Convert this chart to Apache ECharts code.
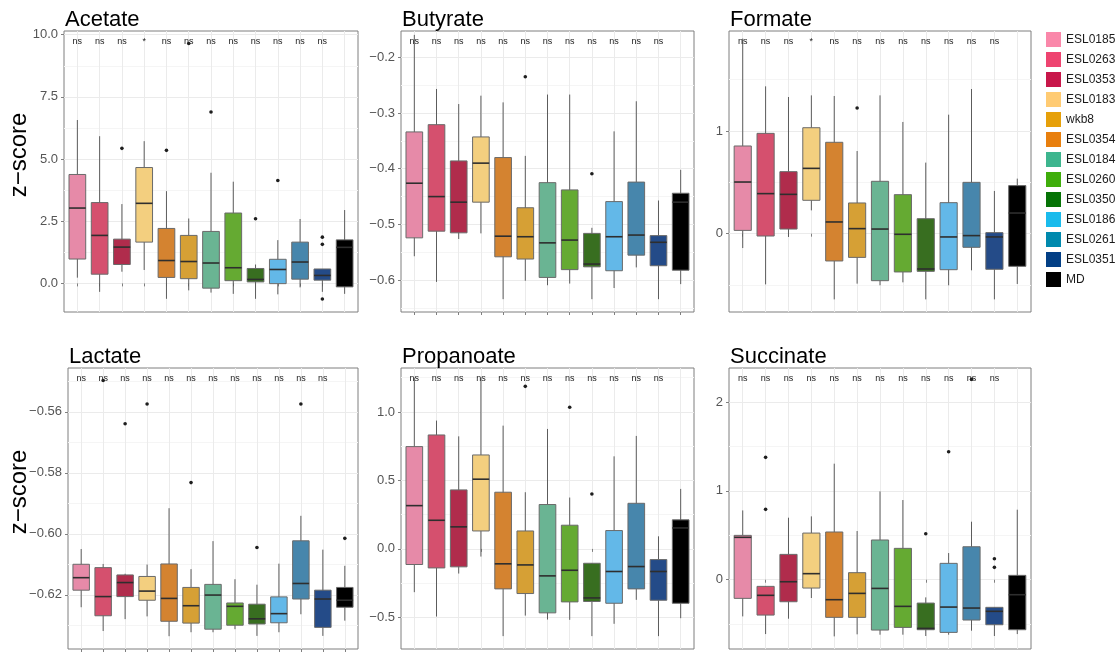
<!DOCTYPE html>
<html>
<head>
<meta charset="utf-8">
<script src="https://cdn.jsdelivr.net/npm/echarts@6/dist/echarts.min.js"></script>
<style>
  html, body { margin: 0; padding: 0; background: #ffffff; }
  #chart { width: 1120px; height: 653px; }
</style>
</head>
<body>
<div id="chart"></div>
<script>
// Strains in legend order and their key colours
const strains = ['ESL0185', 'ESL0263', 'ESL0353', 'ESL0183', 'wkb8', 'ESL0354',
  'ESL0184', 'ESL0260', 'ESL0350', 'ESL0186', 'ESL0261', 'ESL0351', 'MD'];
const legendColors = ['#FA88AA', '#EE4470', '#C8174A', '#FFCB73', '#E6A00A', '#E87F0E',
  '#3DB58E', '#3FAD0B', '#067306', '#1ABBEC', '#0089AD', '#033F85', '#000000'];

// Order of the boxes along x (positions 1..13) and their fills
const boxOrder = ['ESL0185', 'ESL0263', 'ESL0353', 'ESL0183', 'ESL0354', 'wkb8',
  'ESL0184', 'ESL0260', 'ESL0350', 'ESL0186', 'ESL0261', 'ESL0351', 'MD'];
const boxFills = ['#E68AA8', '#D5506E', '#B02C4C', '#F3CF7F', '#D48330', '#D6A035',
  '#6AB493', '#65AA32', '#386E20', '#63B8E8', '#4786AC', '#244B88', '#000000'];

const metabolites = ['Acetate', 'Butyrate', 'Formate', 'Lactate', 'Propanoate', 'Succinate'];

// Box statistics per position: [lower whisker, Q1, median, Q3, upper whisker]
const acetateBoxes = [
  [0.23, 0.98, 3.03, 4.38, 6.57], [-0.34, 0.37, 1.93, 3.25, 5.92], [0.47, 0.76, 1.46, 1.78, 3.19],
  [0.54, 1.66, 3.22, 4.66, 5.72], [-0.62, 0.24, 0.92, 2.21, 3.71], [-0.28, 0.19, 0.88, 1.93, 2.61],
  [-0.37, -0.19, 0.82, 2.09, 4.45], [-0.42, 0.11, 0.63, 2.83, 4.09], [-0.62, 0.06, 0.16, 0.60, 0.76],
  [-0.44, -0.01, 0.56, 0.97, 1.74], [-0.16, 0.17, 0.86, 1.66, 2.59], [-0.34, 0.13, 0.32, 0.58, 0.58],
  [-0.42, -0.14, 1.45, 1.75, 2.95]
];
const butyrateBoxes = [
  [-0.557, -0.524, -0.426, -0.334, -0.160], [-0.603, -0.512, -0.450, -0.321, -0.257],
  [-0.526, -0.515, -0.460, -0.386, -0.284], [-0.516, -0.460, -0.390, -0.343, -0.269],
  [-0.634, -0.558, -0.521, -0.380, -0.281], [-0.601, -0.562, -0.522, -0.470, -0.377],
  [-0.609, -0.595, -0.533, -0.425, -0.267], [-0.606, -0.581, -0.528, -0.438, -0.267],
  [-0.634, -0.576, -0.571, -0.516, -0.506], [-0.614, -0.583, -0.522, -0.459, -0.333],
  [-0.577, -0.555, -0.519, -0.424, -0.279], [-0.634, -0.574, -0.532, -0.520, -0.457],
  [-0.607, -0.582, -0.460, -0.444, -0.402]
];
const formateBoxes = [
  [-0.140, 0.032, 0.503, 0.854, 1.900], [-0.494, -0.023, 0.390, 0.977, 1.435],
  [-0.032, 0.045, 0.383, 0.604, 1.331], [0.227, 0.325, 0.636, 1.032, 1.347],
  [-0.640, -0.266, 0.114, 0.890, 1.341], [-0.487, -0.231, 0.049, 0.299, 0.805],
  [-0.503, -0.458, 0.045, 0.510, 1.347], [-0.474, -0.373, -0.006, 0.380, 1.088],
  [-0.640, -0.367, -0.344, 0.146, 0.692], [-0.503, -0.351, -0.032, 0.302, 1.159],
  [-0.357, -0.133, -0.019, 0.500, 1.409], [-0.640, -0.347, -0.032, 0.010, 0.416],
  [-0.490, -0.318, 0.201, 0.468, 0.536]
];
const lactateBoxes = [
  [-0.6241, -0.6185, -0.6144, -0.6100, -0.6050], [-0.6319, -0.6269, -0.6206, -0.6111, -0.6099],
  [-0.6280, -0.6206, -0.6160, -0.6135, -0.6131], [-0.6271, -0.6218, -0.6188, -0.6140, -0.6101],
  [-0.6336, -0.6287, -0.6212, -0.6099, -0.5916], [-0.6323, -0.6293, -0.6236, -0.6176, -0.6116],
  [-0.6323, -0.6313, -0.6201, -0.6166, -0.6024], [-0.6313, -0.6300, -0.6238, -0.6227, -0.6149],
  [-0.6335, -0.6296, -0.6279, -0.6231, -0.6167], [-0.6323, -0.6292, -0.6262, -0.6207, -0.6098],
  [-0.6264, -0.6214, -0.6163, -0.6023, -0.5941], [-0.6335, -0.6307, -0.6214, -0.6185, -0.6052],
  [-0.6285, -0.6241, -0.6218, -0.6176, -0.6105]
];
const propanoateBoxes = [
  [-0.316, -0.114, 0.316, 0.747, 1.250], [-0.494, -0.139, 0.209, 0.832, 0.937],
  [-0.180, -0.131, 0.161, 0.431, 0.822], [-0.056, 0.131, 0.509, 0.686, 1.250],
  [-0.637, -0.292, -0.109, 0.414, 0.900], [-0.487, -0.326, -0.117, 0.131, 0.414],
  [-0.516, -0.467, -0.197, 0.324, 0.876], [-0.518, -0.387, -0.156, 0.173, 0.375],
  [-0.637, -0.384, -0.358, -0.105, -0.105], [-0.547, -0.397, -0.165, 0.134, 0.676],
  [-0.372, -0.292, -0.129, 0.333, 0.825], [-0.637, -0.375, -0.165, -0.078, 0.092],
  [-0.506, -0.397, 0.153, 0.212, 0.438]
];
const succinateBoxes = [
  [-0.413, -0.210, 0.477, 0.499, 0.780], [-0.612, -0.398, -0.176, -0.075, -0.075],
  [-0.439, -0.248, -0.023, 0.285, 0.698], [-0.206, -0.094, 0.068, 0.525, 0.713],
  [-0.638, -0.424, -0.225, 0.537, 1.306], [-0.615, -0.424, -0.154, 0.079, 0.548],
  [-0.619, -0.567, -0.098, 0.447, 0.994], [-0.619, -0.537, -0.300, 0.353, 0.897],
  [-0.634, -0.563, -0.548, -0.263, -0.199], [-0.619, -0.593, -0.308, 0.184, 0.300],
  [-0.574, -0.454, -0.319, 0.371, 0.653], [-0.634, -0.507, -0.356, -0.311, -0.311],
  [-0.612, -0.563, -0.169, 0.049, 0.788]
];

// Outlying points: [position, value]
const acetateOutliers = [[3, 5.43], [5, 5.35], [6, 9.65], [7, 6.89], [9, 2.60], [10, 4.14],
  [12, 1.86], [12, 1.57], [12, -0.63]];
const butyrateOutliers = [[6, -0.235], [9, -0.409]];
const formateOutliers = [[6, 1.224]];
const lactateOutliers = [[2, -0.5497], [3, -0.5639], [4, -0.5574], [6, -0.5832], [9, -0.6045],
  [11, -0.5574], [13, -0.6015]];
const propanoateOutliers = [[6, 1.187], [8, 1.034], [9, 0.401]];
const succinateOutliers = [[2, 1.377], [2, 0.792], [9, 0.518], [10, 1.441], [11, 2.255],
  [12, 0.236], [12, 0.139]];

// Significance of each strain against MD (positions 1..12)
const acetateSig = ['ns', 'ns', 'ns', '*', 'ns', 'ns', 'ns', 'ns', 'ns', 'ns', 'ns', 'ns'];
const butyrateSig = ['ns', 'ns', 'ns', 'ns', 'ns', 'ns', 'ns', 'ns', 'ns', 'ns', 'ns', 'ns'];
const formateSig = ['ns', 'ns', 'ns', '*', 'ns', 'ns', 'ns', 'ns', 'ns', 'ns', 'ns', 'ns'];
const lactateSig = ['ns', 'ns', 'ns', 'ns', 'ns', 'ns', 'ns', 'ns', 'ns', 'ns', 'ns', 'ns'];
const propanoateSig = ['ns', 'ns', 'ns', 'ns', 'ns', 'ns', 'ns', 'ns', 'ns', 'ns', 'ns', 'ns'];
const succinateSig = ['ns', 'ns', 'ns', 'ns', 'ns', 'ns', 'ns', 'ns', 'ns', 'ns', 'ns', 'ns'];

// Height (data units) of the significance labels in each panel
const sigLabelY = [9.73, -0.1725, 1.870, -0.549, 1.243, 2.263];

// y ranges, major and minor tick values, and label decimals
const yRanges = [[-1.15, 10.15], [-0.657, -0.153], [-0.763, 1.974],
  [-0.6378, -0.5456], [-0.731, 1.321], [-0.780, 2.383]];
const yMajorTicks = [[0, 2.5, 5, 7.5, 10], [-0.6, -0.5, -0.4, -0.3, -0.2], [0, 1],
  [-0.62, -0.60, -0.58, -0.56], [-0.5, 0, 0.5, 1.0], [0, 1, 2]];
const yMinorTicks = [[1.25, 3.75, 6.25, 8.75], [-0.65, -0.55, -0.45, -0.35, -0.25], [-0.5, 0.5, 1.5],
  [-0.63, -0.61, -0.59, -0.57, -0.55], [-0.25, 0.25, 0.75, 1.25], [-0.5, 0.5, 1.5]];
const yDecimals = [1, 1, 0, 2, 1, 0];

const xPositions = [1, 2, 3, 4, 5, 6, 7, 8, 9, 10, 11, 12, 13];

const allBoxes = [acetateBoxes, butyrateBoxes, formateBoxes, lactateBoxes, propanoateBoxes, succinateBoxes];
const allOutliers = [acetateOutliers, butyrateOutliers, formateOutliers, lactateOutliers, propanoateOutliers, succinateOutliers];
const allSig = [acetateSig, butyrateSig, formateSig, lactateSig, propanoateSig, succinateSig];

// Panel rectangles in pixels
const panelRects = [
  { left: 64, top: 31, width: 294, height: 281 },
  { left: 401, top: 31, width: 293, height: 281 },
  { left: 729, top: 31, width: 302, height: 281 },
  { left: 68, top: 368, width: 290, height: 281 },
  { left: 401, top: 368, width: 293, height: 281 },
  { left: 729, top: 368, width: 302, height: 281 }
];

const FONT = '"Liberation Sans", Arial, Helvetica, sans-serif';
const AXIS_GREY = '#7F7F7F';

// One box: whisker line, IQR rectangle, median bar
function renderBox(params, api) {
  const x = api.value(0);
  const lo = api.coord([x, api.value(1)]);
  const q1 = api.coord([x, api.value(2)]);
  const md = api.coord([x, api.value(3)]);
  const q3 = api.coord([x, api.value(4)]);
  const hi = api.coord([x, api.value(5)]);
  const w = api.size([0.75, 0])[0];
  const fill = boxFills[x - 1];
  return {
    type: 'group',
    children: [
      { type: 'line', shape: { x1: lo[0], y1: lo[1], x2: hi[0], y2: hi[1] },
        style: { stroke: '#5C5C5C', lineWidth: 1 } },
      { type: 'rect', shape: { x: q3[0] - w / 2, y: q3[1], width: w, height: q1[1] - q3[1] },
        style: { fill: fill, stroke: '#6A6A6A', lineWidth: 1 } },
      { type: 'line', shape: { x1: md[0] - w / 2, y1: md[1], x2: md[0] + w / 2, y2: md[1] },
        style: { stroke: '#2E2E2E', lineWidth: 1.6 } }
    ]
  };
}

const grid = [], xAxis = [], yAxis = [], series = [], title = [];

panelRects.forEach((r, i) => {
  grid.push(Object.assign({}, r, { show: true, borderColor: AXIS_GREY, borderWidth: 1,
    backgroundColor: 'transparent', containLabel: false }));

  xAxis.push({
    type: 'value', gridIndex: i, min: 0.4, max: 13.6,
    axisLine: { show: false },
    axisLabel: { show: false },
    axisTick: { show: true, length: 3, lineStyle: { color: AXIS_GREY }, customValues: xPositions },
    splitLine: { show: true, lineStyle: { color: '#EBEBEB', width: 1 } }
  });

  const dec = yDecimals[i];
  // major axis with labels
  yAxis.push({
    type: 'value', gridIndex: i, min: yRanges[i][0], max: yRanges[i][1],
    axisLine: { show: false },
    axisTick: { show: true, length: 3, lineStyle: { color: AXIS_GREY }, customValues: yMajorTicks[i] },
    axisLabel: {
      show: true, margin: 6, fontSize: 13, color: '#555555', fontFamily: FONT,
      customValues: yMajorTicks[i],
      formatter: v => Number(v).toFixed(dec).replace('-', '\u2212')
    },
    splitLine: { show: true, lineStyle: { color: '#EBEBEB', width: 1 } }
  });
  // minor grid lines
  yAxis.push({
    type: 'value', gridIndex: i, min: yRanges[i][0], max: yRanges[i][1], position: 'left',
    axisLine: { show: false },
    axisTick: { show: false, customValues: yMinorTicks[i] },
    axisLabel: { show: false },
    splitLine: { show: true, lineStyle: { color: '#F5F5F5', width: 1 } }
  });

  title.push({
    text: metabolites[i], left: r.left + 1, top: r.top - 22, padding: 0,
    textStyle: { fontSize: 22, fontWeight: 'normal', color: '#000', fontFamily: FONT }
  });

  const boxData = allBoxes[i].map((b, k) => [xPositions[k]].concat(b));
  series.push({
    type: 'custom', name: metabolites[i] + ' boxes', xAxisIndex: i, yAxisIndex: 2 * i,
    renderItem: renderBox, data: boxData, silent: true, z: 2,
    encode: { x: 0, y: [1, 2, 3, 4, 5] }
  });

  series.push({
    type: 'scatter', name: metabolites[i] + ' outliers', xAxisIndex: i, yAxisIndex: 2 * i,
    data: allOutliers[i], symbolSize: 3.6, silent: true, z: 3,
    itemStyle: { color: '#1E1E1E', opacity: 1 }
  });

  const sigTexts = allSig[i];
  const sigData = sigTexts.map((s, k) => [xPositions[k], sigLabelY[i]]);
  series.push({
    type: 'custom', name: metabolites[i] + ' significance', xAxisIndex: i, yAxisIndex: 2 * i,
    data: sigData, silent: true, z: 4,
    renderItem: (params, api) => {
      const p = api.coord([api.value(0), api.value(1)]);
      return {
        type: 'text', x: p[0], y: p[1],
        style: { text: sigTexts[params.dataIndex], fill: '#222', fontSize: 9,
          fontFamily: FONT, align: 'center', verticalAlign: 'middle' }
      };
    }
  });
});

// Empty named series so the legend lists every strain with its colour
strains.forEach((s, k) => {
  series.push({
    type: 'custom', name: s, xAxisIndex: 0, yAxisIndex: 0, data: [],
    itemStyle: { color: legendColors[k] },
    renderItem: () => null
  });
});

const chart = echarts.init(document.getElementById('chart'), null, { renderer: 'canvas' });
chart.setOption({
  animation: false,
  backgroundColor: '#ffffff',
  title: title,
  grid: grid,
  xAxis: xAxis,
  yAxis: yAxis,
  legend: {
    data: strains, orient: 'vertical', left: 1046, top: 32, padding: 0,
    itemWidth: 15, itemHeight: 15, itemGap: 5, icon: 'rect', selectedMode: false,
    textStyle: { fontSize: 12, color: '#1A1A1A', fontFamily: FONT }
  },
  graphic: [
    { type: 'text', x: 19, y: 155, rotation: Math.PI / 2,
      style: { text: 'z\u2212score', fontSize: 24, fill: '#000', fontFamily: FONT,
        align: 'center', verticalAlign: 'middle' } },
    { type: 'text', x: 19, y: 492, rotation: Math.PI / 2,
      style: { text: 'z\u2212score', fontSize: 24, fill: '#000', fontFamily: FONT,
        align: 'center', verticalAlign: 'middle' } }
  ],
  series: series
});
</script>
</body>
</html>
